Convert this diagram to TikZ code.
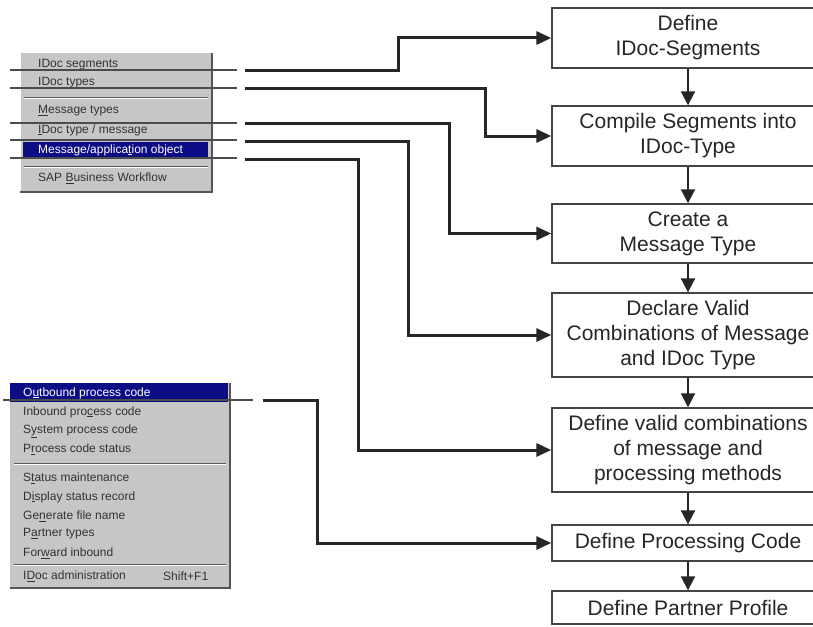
\documentclass[tikz,border=0pt]{standalone}
\usepackage{fontspec}
\setmainfont{Liberation Sans}
\usetikzlibrary{arrows.meta}
\definecolor{menugray}{HTML}{C6C6C6}
\definecolor{menutext}{HTML}{333333}
\definecolor{hinavy}{HTML}{0C0C84}
\definecolor{shadowgray}{HTML}{555555}
\definecolor{boxline}{HTML}{444444}
\tikzset{
  stepbox/.style={draw=boxline, line width=1.4pt, minimum width=272pt, align=center,
    font=\fontsize{21}{25}\selectfont, inner sep=0pt, text=black!85},
  menuitem/.style={anchor=west, inner sep=0pt, font=\fontsize{12}{14}\selectfont, text=menutext},
  hiitem/.style={menuitem, text=white},
  conn/.style={line width=3pt, black!85, -{Triangle[length=15pt,width=13pt]}},
  flow/.style={line width=2pt, black!85, -{Triangle[length=14pt,width=14pt]}},
  thinline/.style={line width=1.1pt, black!70},
  sepline/.style={line width=0.8pt, gray!70!black},
}
\begin{document}
\begin{tikzpicture}[x=1pt,y=-1pt]
\useasboundingbox (0,0) rectangle (813,626);
\fill[white] (0,0) rectangle (813,626);

% ---------- top menu ----------
\fill[menugray] (20,53) rectangle (212,192);
\draw[white, line width=1pt] (20,192) -- (20,53) -- (212,53);
\draw[shadowgray, line width=1.6pt] (20,192) -- (212,192) -- (212,53);
\fill[hinavy] (23,142) rectangle (208,158);
\draw[sepline] (24,97) -- (208,97);
\draw[white] (24,98.2) -- (208,98.2);
\draw[sepline] (24,166) -- (208,166);
\draw[white] (24,167.2) -- (208,167.2);
\node[menuitem] (m1) at (38,65) {\underline{I}Doc segments};
\node[menuitem] (m2) at (38,83) {IDoc \underline{t}ypes};
\node[menuitem] (m3) at (38,111) {\underline{M}essage types};
\node[menuitem] (m4) at (38,130) {\underline{I}Doc type / message};
\node[hiitem] (m5) at (38,150) {Message/applica\underline{t}ion object};
\node[menuitem] (m6) at (38,178) {SAP \underline{B}usiness Workflow};
\foreach \yy in {70,88,123,140,158} \draw[thinline] (10,\yy) -- (237,\yy);

% ---------- bottom menu ----------
\fill[menugray] (10,383) rectangle (230,588);
\draw[shadowgray, line width=2pt] (10,588) -- (230,588) -- (230,383);
\fill[hinavy] (10,383) rectangle (228,402);
\draw[sepline] (14,463) -- (226,463);
\draw[white] (14,464.2) -- (226,464.2);
\draw[sepline] (14,564) -- (226,564);
\draw[white] (14,565.2) -- (226,565.2);
\node[hiitem] (n1) at (23,393) {O\underline{u}tbound process code};
\node[menuitem] (n2) at (23,412) {Inbound pro\underline{c}ess code};
\node[menuitem] (n3) at (23,431) {S\underline{y}stem process code};
\node[menuitem] (n4) at (23,449) {P\underline{r}ocess code status};
\node[menuitem] (n5) at (23,478) {S\underline{t}atus maintenance};
\node[menuitem] (n6) at (23,497) {D\underline{i}splay status record};
\node[menuitem] (n7) at (23,516) {Ge\underline{n}erate file name};
\node[menuitem] (n8) at (23,534) {P\underline{a}rtner types};
\node[menuitem] (n9) at (23,553) {For\underline{w}ard inbound};
\node[menuitem] (n10) at (23,576) {I\underline{D}oc administration};
\node[menuitem] (n11) at (163,576) {Shift+F1};
\draw[thinline] (3,400) -- (253,400);

% ---------- process boxes ----------
\node[stepbox, minimum height=60pt] (b1) at (688,38) {Define\\IDoc-Segments};
\node[stepbox, minimum height=60pt] (b2) at (688,136) {Compile Segments into\\IDoc-Type};
\node[stepbox, minimum height=59pt] (b3) at (688,233.5) {Create a\\Message Type};
\node[stepbox, minimum height=84pt] (b4) at (688,335) {Declare Valid\\Combinations of Message\\and IDoc Type};
\node[stepbox, minimum height=84pt] (b5) at (688,450) {Define valid combinations\\of message and\\processing methods};
\node[stepbox, minimum height=36pt] (b6) at (688,543) {Define Processing Code};
\node[stepbox, minimum height=33pt] (b7) at (688,607.5) {Define Partner Profile};

\draw[flow] (b1) -- (b2);
\draw[flow] (b2) -- (b3);
\draw[flow] (b3) -- (b4);
\draw[flow] (b4) -- (b5);
\draw[flow] (b5) -- (b6);
\draw[flow] (b6) -- (b7);

% ---------- connectors ----------
\coordinate (s1) at (245,70);
\coordinate (s2) at (245,88);
\coordinate (s3) at (245,123);
\coordinate (s4) at (245,141);
\coordinate (s5) at (245,159);
\coordinate (s6) at (263,400);
\draw[conn] (s1) -| (398,38) -- (b1.west);
\draw[conn] (s2) -| (485,136) -- (b2.west);
\draw[conn] (s3) -| (449,233.5) -- (b3.west);
\draw[conn] (s4) -| (408,335) -- (b4.west);
\draw[conn] (s5) -| (358,450) -- (b5.west);
\draw[conn] (s6) -| (317,543) -- (b6.west);
\end{tikzpicture}
\end{document}
